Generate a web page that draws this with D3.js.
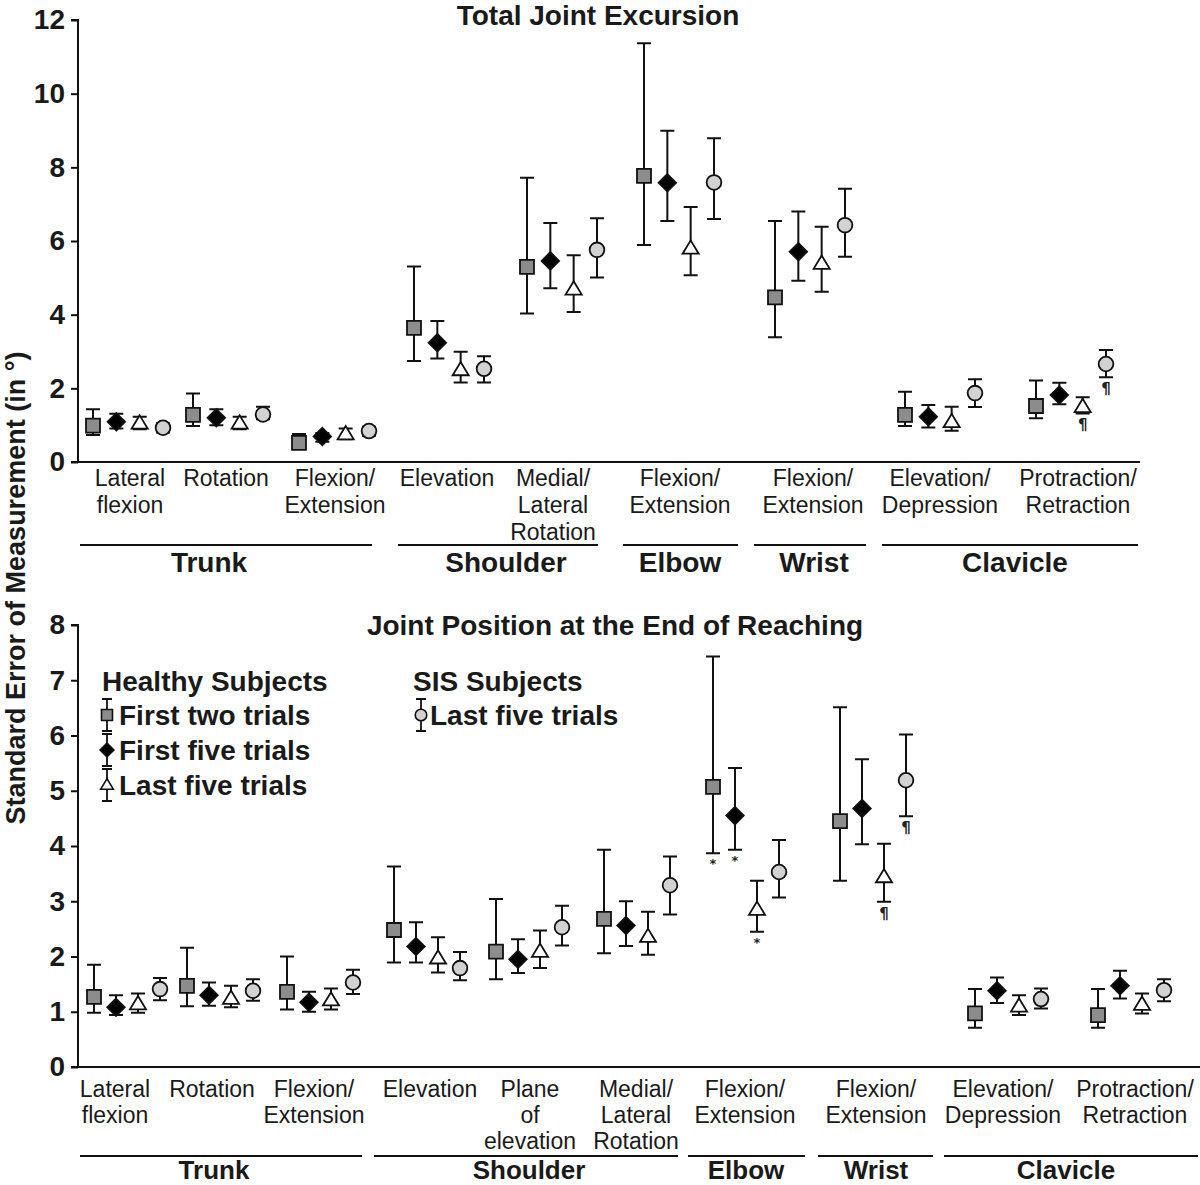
<!DOCTYPE html>
<html><head><meta charset="utf-8">
<script src="https://cdn.jsdelivr.net/npm/d3@7"></script>
<style>
html,body{margin:0;padding:0;background:#fff;}
svg{display:block;font-family:"Liberation Sans",Arial,sans-serif;}
</style></head>
<body>
<svg id="c" width="1200" height="1185"></svg>
<script>
// ---------------- DATA ----------------
const seriesKeys = ["first2", "first5", "last5", "sis"];
const seriesLabels = ["First two trials", "First five trials", "Last five trials", "Last five trials"];

// Top panel: Total Joint Excursion
const topCategories = ["Lateral flexion", "Rotation", "Trunk Flexion/Extension", "Elevation", "Medial/Lateral Rotation",
  "Elbow Flexion/Extension", "Wrist Flexion/Extension", "Elevation/Depression", "Protraction/Retraction"];
const topCatLines = [["Lateral", "flexion"], ["Rotation"], ["Flexion/", "Extension"], ["Elevation"], ["Medial/", "Lateral", "Rotation"],
  ["Flexion/", "Extension"], ["Flexion/", "Extension"], ["Elevation/", "Depression"], ["Protraction/", "Retraction"]];
const topYTicks = [0, 2, 4, 6, 8, 10, 12];

const topFirst2Mean = [0.99, 1.28, 0.52, 3.64, 5.30, 7.77, 4.47, 1.28, 1.52];
const topFirst2Low  = [0.73, 0.98, 0.37, 2.74, 4.03, 5.89, 3.39, 0.98, 1.19];
const topFirst2High = [1.43, 1.86, 0.76, 5.31, 7.72, 11.37, 6.54, 1.91, 2.21];
const topFirst5Mean = [1.09, 1.20, 0.69, 3.24, 5.46, 7.58, 5.71, 1.23, 1.82];
const topFirst5Low  = [0.91, 1.00, 0.55, 2.81, 4.72, 6.54, 4.92, 0.94, 1.57];
const topFirst5High = [1.31, 1.43, 0.79, 3.83, 6.49, 8.99, 6.80, 1.55, 2.15];
const topLast5Mean  = [1.05, 1.05, 0.76, 2.50, 4.69, 5.80, 5.39, 1.09, 1.50];
const topLast5Low   = [0.89, 0.89, 0.62, 2.16, 4.07, 5.07, 4.62, 0.85, 1.32];
const topLast5High  = [1.23, 1.23, 0.91, 2.99, 5.61, 6.92, 6.39, 1.50, 1.76];
const topSisMean    = [0.93, 1.29, 0.84, 2.53, 5.76, 7.59, 6.43, 1.87, 2.66];
const topSisLow     = [0.80, 1.16, 0.71, 2.16, 5.01, 6.60, 5.57, 1.49, 2.30];
const topSisHigh    = [1.05, 1.50, 0.96, 2.87, 6.62, 8.79, 7.42, 2.25, 3.04];
const topNotes = [{cat: 8, s: "last5", t: "¶"}, {cat: 8, s: "sis", t: "¶"}];
const topGroups = ["Trunk", "Shoulder", "Elbow", "Wrist", "Clavicle"];

// Bottom panel: Joint Position at the End of Reaching
const botCategories = ["Lateral flexion", "Rotation", "Trunk Flexion/Extension", "Elevation", "Plane of elevation",
  "Medial/Lateral Rotation", "Elbow Flexion/Extension", "Wrist Flexion/Extension", "Elevation/Depression", "Protraction/Retraction"];
const botCatLines = [["Lateral", "flexion"], ["Rotation"], ["Flexion/", "Extension"], ["Elevation"], ["Plane", "of", "elevation"],
  ["Medial/", "Lateral", "Rotation"], ["Flexion/", "Extension"], ["Flexion/", "Extension"], ["Elevation/", "Depression"], ["Protraction/", "Retraction"]];
const botYTicks = [0, 1, 2, 3, 4, 5, 6, 7, 8];

const botFirst2Mean = [1.27, 1.47, 1.36, 2.48, 2.09, 2.68, 5.07, 4.45, 0.97, 0.94];
const botFirst2Low  = [0.98, 1.10, 1.04, 1.89, 1.59, 2.06, 3.87, 3.37, 0.71, 0.71];
const botFirst2High = [1.85, 2.16, 2.00, 3.63, 3.04, 3.93, 7.43, 6.51, 1.41, 1.41];
const botFirst5Mean = [1.08, 1.30, 1.17, 2.18, 1.95, 2.56, 4.55, 4.68, 1.38, 1.47];
const botFirst5Low  = [0.94, 1.11, 1.00, 1.89, 1.70, 2.19, 3.93, 4.03, 1.16, 1.24];
const botFirst5High = [1.30, 1.53, 1.36, 2.62, 2.31, 3.00, 5.41, 5.57, 1.62, 1.74];
const botLast5Mean  = [1.14, 1.24, 1.21, 1.97, 2.09, 2.36, 2.85, 3.44, 1.10, 1.13];
const botLast5Low   = [0.98, 1.08, 1.04, 1.71, 1.79, 2.03, 2.45, 2.99, 0.94, 0.97];
const botLast5High  = [1.33, 1.47, 1.42, 2.35, 2.47, 2.81, 3.37, 4.04, 1.30, 1.33];
const botSisMean    = [1.41, 1.38, 1.53, 1.79, 2.53, 3.29, 3.53, 5.19, 1.23, 1.39];
const botSisLow     = [1.21, 1.20, 1.32, 1.57, 2.20, 2.76, 3.07, 4.54, 1.06, 1.19];
const botSisHigh    = [1.61, 1.59, 1.76, 2.08, 2.92, 3.81, 4.11, 6.02, 1.42, 1.59];
const botNotes = [{cat: 6, s: "first2", t: "*"}, {cat: 6, s: "first5", t: "*"}, {cat: 6, s: "last5", t: "*"},
  {cat: 7, s: "last5", t: "¶"}, {cat: 7, s: "sis", t: "¶"}];
const botGroups = ["Trunk", "Shoulder", "Elbow", "Wrist", "Clavicle"];

// ---------------- LAYOUT / STYLE ----------------
const svg = d3.select("#c");
const styles = {
  first2: {shape: "square", fill: "#8c8c8c"},
  first5: {shape: "diamond", fill: "#000"},
  last5: {shape: "triangle", fill: "#fff"},
  sis: {shape: "circle", fill: "#d2d2d2"}
};
function shapePath(shape, s) {
  if (shape === "square") return `M${-s},${-s}H${s}V${s}H${-s}Z`;
  if (shape === "diamond") { const d = s * 1.25; return `M0,${-d}L${d},0L0,${d}L${-d},0Z`; }
  if (shape === "triangle") { const w = s * 1.15, h = s * 1.9; return `M0,${-h * 0.6}L${w},${h * 0.4}L${-w},${h * 0.4}Z`; }
  return d3.arc()({innerRadius: 0, outerRadius: s * 1.05, startAngle: 0, endAngle: 2 * Math.PI});
}

function buildRows(cats, means, lows, highs) {
  const rows = [];
  cats.forEach((c, i) => seriesKeys.forEach((k, j) => {
    rows.push({cat: c, ci: i, key: k, mean: means[j][i], lo: lows[j][i], hi: highs[j][i]});
  }));
  return rows;
}

function drawPanel(cfg) {
  const g = svg.append("g");
  const y = d3.scaleLinear().domain(cfg.yDomain).range([cfg.y0, cfg.y1]);
  const xc = d3.scaleOrdinal().domain(cfg.cats).range(cfg.centers);
  const xs = d3.scalePoint().domain(seriesKeys).range([-cfg.off, cfg.off]);
  const X = d => xc(d.cat) + xs(d.key);

  // y axis
  const ax = g.append("g").attr("transform", `translate(${cfg.xAxis},0)`)
    .call(d3.axisLeft(y).tickValues(cfg.ticks).tickSize(7).tickPadding(6).tickFormat(d3.format("d")));
  ax.select(".domain").attr("stroke", "#111").attr("stroke-width", 2).attr("d", `M-7,${cfg.y0}H0V${y(cfg.yDomain[1])}H-7`);
  ax.selectAll(".tick line").attr("stroke", "#111").attr("stroke-width", 2);
  ax.selectAll(".tick text").attr("font-size", 28).attr("font-weight", "bold").attr("fill", "#1a1a1a")
    .attr("font-family", "'Liberation Sans',Arial,sans-serif");
  // baseline
  g.append("line").attr("x1", cfg.xAxis).attr("x2", cfg.xEnd).attr("y1", cfg.y0).attr("y2", cfg.y0)
    .attr("stroke", "#111").attr("stroke-width", 2);

  // title
  g.append("text").attr("x", cfg.titleX).attr("y", cfg.titleY).attr("text-anchor", "middle")
    .attr("font-size", 28).attr("font-weight", "bold").attr("fill", "#1a1a1a").text(cfg.title);

  const rows = buildRows(cfg.cats, cfg.means, cfg.lows, cfg.highs);
  const cap = 7;
  const eb = g.append("g").attr("stroke", "#111").attr("stroke-width", 2).attr("fill", "none");
  eb.selectAll("path").data(rows).join("path")
    .attr("d", d => `M${X(d)},${y(d.hi)}V${y(d.lo)}M${X(d) - cap},${y(d.hi)}h${2 * cap}M${X(d) - cap},${y(d.lo)}h${2 * cap}`);
  g.append("g").selectAll("path").data(rows).join("path")
    .attr("transform", d => `translate(${X(d)},${y(d.mean)})`)
    .attr("d", d => shapePath(styles[d.key].shape, 7))
    .attr("fill", d => styles[d.key].fill).attr("stroke", "#111").attr("stroke-width", 1.8);

  // notes
  g.append("g").selectAll("text").data(cfg.notes).join("text")
    .attr("x", d => xc(cfg.cats[d.cat]) + xs(d.s))
    .attr("y", d => { const r = rows.find(r => r.ci === d.cat && r.key === d.s); return y(r.lo) + (d.t === "*" ? 15 : 17); })
    .attr("text-anchor", "middle").attr("font-family", "'DejaVu Sans',sans-serif").attr("font-weight", "bold")
    .attr("font-size", d => d.t === "*" ? 13 : 15).attr("fill", "#222").text(d => d.t);

  // category labels
  const cl = g.append("g").attr("font-size", 23).attr("fill", "#1a1a1a").attr("text-anchor", "middle");
  cfg.cats.forEach((c, i) => {
    cfg.catLines[i].forEach((ln, k) => {
      cl.append("text").attr("x", xc(c) + cfg.labelShift[i]).attr("y", cfg.labelY + k * cfg.lineStep).text(ln);
    });
  });
  // groups
  cfg.groups.forEach((name, i) => {
    const [a, b] = cfg.groupSpans[i];
    g.append("line").attr("x1", a).attr("x2", b).attr("y1", cfg.groupLineY).attr("y2", cfg.groupLineY)
      .attr("stroke", "#111").attr("stroke-width", 2);
    g.append("text").attr("x", cfg.groupLabelX[i]).attr("y", cfg.groupLabelY).attr("text-anchor", "middle")
      .attr("font-size", cfg.groupFont).attr("font-weight", "bold").attr("fill", "#1a1a1a").text(name);
  });
  return {y, g};
}

drawPanel({
  title: "Total Joint Excursion", titleX: 598, titleY: 25,
  yDomain: [0, 12], y0: 462, y1: 20, ticks: topYTicks, xAxis: 78, xEnd: 1140,
  cats: topCategories, catLines: topCatLines,
  centers: [128, 228, 334, 449, 562, 679, 810, 940, 1071], off: 35,
  labelShift: [2, -2, 1, -2, -9, 1, 3, 0, 7], labelY: 486, lineStep: 27,
  means: [topFirst2Mean, topFirst5Mean, topLast5Mean, topSisMean],
  lows: [topFirst2Low, topFirst5Low, topLast5Low, topSisLow],
  highs: [topFirst2High, topFirst5High, topLast5High, topSisHigh],
  notes: topNotes, groups: topGroups, groupFont: 28,
  groupSpans: [[80, 372], [398, 598], [623, 738], [754, 866], [882, 1138]],
  groupLabelX: [209, 506, 680, 814, 1015], groupLineY: 545, groupLabelY: 572
});

drawPanel({
  title: "Joint Position at the End of Reaching", titleX: 615, titleY: 635,
  yDomain: [0, 8], y0: 1067, y1: 625, ticks: botYTicks, xAxis: 78, xEnd: 1200,
  cats: botCategories, catLines: botCatLines,
  centers: [127, 220, 320, 427, 529, 637, 746, 873, 1008, 1131], off: 33,
  labelShift: [-12, -8, -6, 3, 1, -1, -1, 3, -5, 4], labelY: 1097, lineStep: 26,
  means: [botFirst2Mean, botFirst5Mean, botLast5Mean, botSisMean],
  lows: [botFirst2Low, botFirst5Low, botLast5Low, botSisLow],
  highs: [botFirst2High, botFirst5High, botLast5High, botSisHigh],
  notes: botNotes, groups: botGroups, groupFont: 26,
  groupSpans: [[80, 362], [374, 678], [688, 805], [818, 933], [944, 1198]],
  groupLabelX: [214, 529, 746, 876, 1066], groupLineY: 1156, groupLabelY: 1179
});

// Y axis label
svg.append("text").attr("transform", "translate(25,588) rotate(-90)").attr("text-anchor", "middle")
  .attr("font-size", 27).attr("font-weight", "bold").attr("fill", "#1a1a1a")
  .text("Standard Error of Measurement (in °)");

// Legend
const lg = svg.append("g").attr("font-weight", "bold").attr("font-size", 28).attr("fill", "#1a1a1a");
lg.append("text").attr("x", 102).attr("y", 691).text("Healthy Subjects");
lg.append("text").attr("x", 413).attr("y", 691).text("SIS Subjects");
const legendItems = [
  {key: "first2", x: 107, y: 715, tx: 119},
  {key: "first5", x: 107, y: 750, tx: 119},
  {key: "last5", x: 107, y: 785, tx: 119},
  {key: "sis", x: 421, y: 715, tx: 430}
];
legendItems.forEach(it => {
  const i = seriesKeys.indexOf(it.key);
  const g = svg.append("g");
  g.append("path").attr("d", `M${it.x},${it.y - 16}V${it.y + 16}M${it.x - 5},${it.y - 16}h10M${it.x - 5},${it.y + 16}h10`)
    .attr("stroke", "#111").attr("stroke-width", 1.8);
  g.append("path").attr("transform", `translate(${it.x},${it.y})`).attr("d", shapePath(styles[it.key].shape, 5.5))
    .attr("fill", styles[it.key].fill).attr("stroke", "#111").attr("stroke-width", 1.6);
  lg.append("text").attr("x", it.tx).attr("y", it.y + 10).text(seriesLabels[i]);
});
</script>
</body></html>
